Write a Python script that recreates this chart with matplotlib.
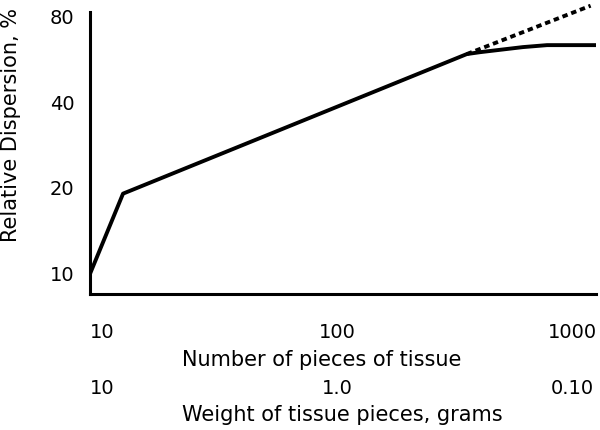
import matplotlib
matplotlib.use("Agg")
import matplotlib.pyplot as plt

# data (log-log)
pieces = [8.9, 12.3, 357, 406, 618, 783, 1265]
dispersion = [10.0, 19.1, 58.9, 59.8, 62.3, 63.3, 63.3]
ext_pieces = [357, 1200]
ext_dispersion = [58.9, 87.0]

x_ticks = [10, 100, 1000]
x_labels = ["10", "100", "1000"]
weight_labels = ["10", "1.0", "0.10"]
y_ticks = [10, 20, 40, 80]
y_labels = ["10", "20", "40", "80"]

plt.rcParams['font.family'] = ['DejaVu Sans']

fig = plt.figure(figsize=(6, 4.3), dpi=100)
ax = fig.add_axes([0.15, 1 - 294 / 430, 506 / 600, 289 / 430])

ax.plot(pieces, dispersion, color='black', lw=2.8, solid_joinstyle='round')
ax.plot(ext_pieces, ext_dispersion, color='black', lw=2.8,
        dashes=(1.4, 1.0), clip_on=False)

ax.set_xscale('log')
ax.set_yscale('log')
ax.set_xlim(8.9, 1265)
ax.set_ylim(8.5, 87.5)

ax.spines['top'].set_visible(False)
ax.spines['right'].set_visible(False)
ax.spines['left'].set_linewidth(2.2)
ax.spines['bottom'].set_linewidth(2.2)
ax.spines['left'].set_bounds(8.5, 82.6)

ax.set_xticks(x_ticks, x_labels)
ax.set_yticks(y_ticks, y_labels)
ax.minorticks_off()
ax.tick_params(axis='x', length=0, pad=21, labelsize=14)
ax.tick_params(axis='y', length=0, pad=11, labelsize=14)

# second row of x labels: weight of the pieces
sec = ax.secondary_xaxis('bottom')
sec.set_xticks(x_ticks, weight_labels)
sec.minorticks_off()
sec.tick_params(length=0, pad=61, labelsize=14)
sec.spines['bottom'].set_visible(False)

fig.text(182 / 600, 1 - 360 / 430, "Number of pieces of tissue",
         ha='left', va='center', fontsize=15)
fig.text(182 / 600, 1 - 415 / 430, "Weight of tissue pieces, grams",
         ha='left', va='center', fontsize=15)
fig.text(11 / 600, 1 - 125 / 430, "Relative Dispersion, %",
         rotation=90, ha='center', va='center', fontsize=15)

fig.savefig("out.png", dpi=100, facecolor='white')
